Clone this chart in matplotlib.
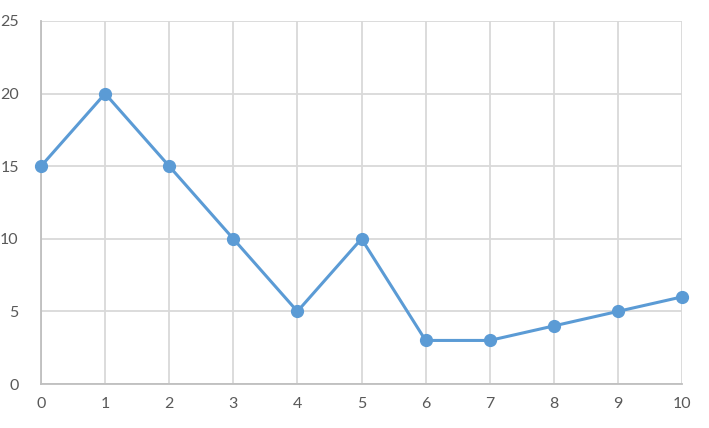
import matplotlib.pyplot as plt

x_vals = [0, 1, 2, 3, 4, 5, 6, 7, 8, 9, 10]
y_vals = [15, 20, 15, 10, 5, 10, 3, 3, 4, 5, 6]

plt.rcParams['font.family'] = ['Lato', 'DejaVu Sans']

fig = plt.figure(figsize=(7.09, 4.28), dpi=100)
ax = fig.add_axes([41 / 709, 1 - 384 / 428, 641 / 709, 363 / 428])

ax.plot(x_vals, y_vals, color="#5B9BD5", linewidth=2.2, marker="o",
        markersize=8.5, zorder=3, clip_on=False)

ax.set_xlim(0, 10)
ax.set_ylim(0, 25)
ax.set_xticks(range(0, 11))
ax.set_yticks(range(0, 26, 5))
ax.grid(True, color="#D9D9D9", linewidth=1.3)
ax.set_axisbelow(True)

for side in ["top", "right"]:
    ax.spines[side].set_visible(False)
for side in ["left", "bottom"]:
    ax.spines[side].set_color("#BFBFBF")
    ax.spines[side].set_linewidth(1.3)

ax.tick_params(length=0, labelsize=11.5, colors="#595959")
ax.tick_params(axis="x", pad=9)
ax.tick_params(axis="y", pad=16)

fig.savefig("out.png", dpi=100)
